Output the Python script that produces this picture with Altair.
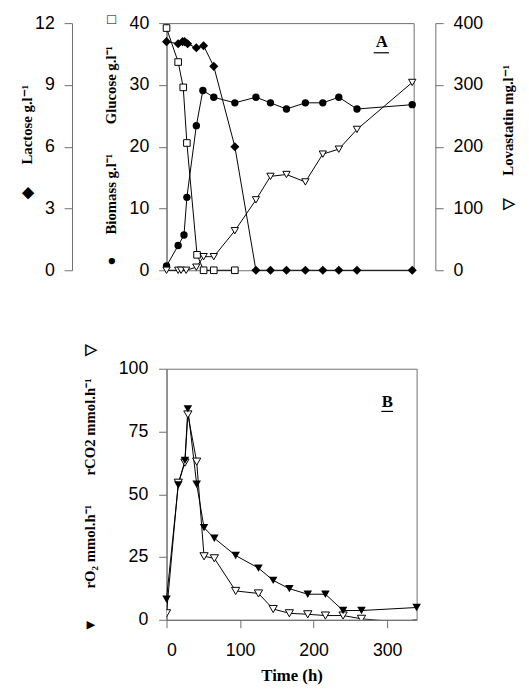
import altair as alt
import pandas as pd

# ---------------- Panel A data ----------------
lac_time = [0, 16, 22, 25, 29, 41, 51, 65, 94, 123, 143, 165, 191, 215, 237, 262, 338]
lactose = [11.1, 11.0, 11.1, 11.1, 11.0, 10.8, 10.9, 9.9, 6.0, 0, 0, 0, 0, 0, 0, 0, 0]

glu_time = [0, 16, 23, 28, 42, 51, 65, 94]
glucose = [39.2, 33.7, 29.6, 20.6, 2.5, 0, 0, 0]

bio_time = [0, 16, 24, 28, 41, 50, 65, 94, 123, 143, 165, 191, 215, 237, 262, 338]
biomass = [0.7, 4.0, 5.7, 11.8, 23.4, 29.1, 28.0, 27.1, 28.0, 27.1, 26.1, 27.1, 27.1, 28.0, 26.1, 26.8]

lov_time = [0, 16, 20, 27, 41, 51, 65, 94, 123, 143, 165, 191, 215, 237, 262, 338]
lovastatin = [0, 0, 0, 0, 5, 22, 22, 64, 114, 152, 155, 143, 188, 196, 228, 304]

# ---------------- Panel B data ----------------
b_time = [0, 16, 25, 29, 41, 51, 65, 94, 125, 145, 167, 192, 216, 240, 265, 340]
rO2 = [8.2, 53.7, 63.5, 84, 54, 36.7, 32.5, 25.6, 20.6, 15.7, 12.4, 10.2, 10.2, 3.7, 3.7, 4.9]
rCO2 = [2.6, 54.6, 62.6, 81.8, 63, 25.3, 24.5, 11.5, 10.5, 4.3, 2.6, 2.2, 1.7, 1.7, 0.4, -1.5]

# panel letters (data coordinates)
label_A = {"text": ["A"], "t": [296], "v": [36.2], "t1": [285], "t2": [306], "u": [35.2]}
label_B = {"text": ["B"], "t": [300], "v": [84.6], "t1": [292], "t2": [308], "u": [83.0]}


def df(t, v):
    return pd.DataFrame({"t": t, "v": v})


SANS = "Liberation Sans"
SERIF = "Liberation Serif"
GREY = "#6e6e6e"
EM = "\u2003"
EN = "\u2002"

# ---------------- Panel A ----------------
xA = alt.X("t:Q", scale=alt.Scale(domain=[0, 340], nice=False, zero=False),
           axis=alt.Axis(values=[0, 100, 200, 300], title=None, labelPadding=9))

gb_title = "\u25CF" + EM + EN + "Biomass g.l\u207B\u00B9" + EM + EM + "Glucose g.l\u207B\u00B9" + EM + EN + "\u25A1"
yGB = alt.Y("v:Q", scale=alt.Scale(domain=[0, 40], nice=False),
            axis=alt.Axis(orient="left", values=[0, 10, 20, 30, 40], title=gb_title,
                          titleAngle=270, titleX=-57, titleY=118.5, titleAlign="center",
                          titleBaseline="middle", labelPadding=10))

lac_title = "\u25C6" + EM + EN + "Lactose g.l\u207B\u00B9"
yLac = alt.Y("v:Q", scale=alt.Scale(domain=[0, 12], nice=False),
             axis=alt.Axis(orient="left", offset=96, values=[0, 3, 6, 9, 12], title=lac_title,
                           titleAngle=270, titleX=-46, titleY=120, titleAlign="center",
                           titleBaseline="middle", labelPadding=10))

lov_title = "\u25BD" + EM + EN + "Lovastatin mg.l\u207B\u00B9"
yLov = alt.Y("v:Q", scale=alt.Scale(domain=[0, 400], nice=False),
             axis=alt.Axis(orient="right", offset=22, values=[0, 100, 200, 300, 400], title=lov_title,
                           titleAngle=270, titleX=73, titleY=115.5, titleAlign="center",
                           titleBaseline="middle", labelPadding=10))

line_kw = dict(color="black", strokeWidth=1)

glu = df(glu_time, glucose)
bio = df(bio_time, biomass)
lac = df(lac_time, lactose)
lov = df(lov_time, lovastatin)

gb_layer = alt.layer(
    alt.Chart(glu).mark_line(**line_kw).encode(x=xA, y=yGB),
    alt.Chart(bio).mark_line(**line_kw).encode(x=xA, y=yGB),
    alt.Chart(glu).mark_point(shape="square", size=45, filled=True, fill="white",
                              stroke="black", strokeWidth=1, opacity=1).encode(x=xA, y=yGB),
    alt.Chart(bio).mark_point(shape="circle", size=56, filled=True, color="black",
                              opacity=1).encode(x=xA, y=yGB),
)

lac_layer = alt.layer(
    alt.Chart(lac).mark_line(**line_kw).encode(x=xA, y=yLac),
    alt.Chart(lac).mark_point(shape="diamond", size=85, filled=True, color="black",
                              opacity=1).encode(x=xA, y=yLac),
)

lov_layer = alt.layer(
    alt.Chart(lov).mark_line(**line_kw).encode(x=xA, y=yLov),
    alt.Chart(lov).mark_point(shape="triangle-down", size=55, filled=True, fill="white",
                              stroke="black", strokeWidth=1, opacity=1).encode(x=xA, y=yLov),
)

labA = pd.DataFrame(label_A)
yLabA = alt.Y("v:Q", scale=alt.Scale(domain=[0, 40], nice=False), axis=None)
labA_layer = alt.layer(
    alt.Chart(labA).mark_text(font=SERIF, fontWeight="bold", fontSize=17, baseline="alphabetic",
                              align="center", color="black").encode(x=xA, y=yLabA, text="text:N"),
    alt.Chart(labA).mark_rule(color="black", strokeWidth=1.2).encode(
        x=alt.X("t1:Q", scale=alt.Scale(domain=[0, 340], nice=False, zero=False), axis=None),
        x2="t2:Q",
        y=alt.Y("u:Q", scale=alt.Scale(domain=[0, 40], nice=False), axis=None)),
)

panelA = alt.layer(gb_layer, lac_layer, lov_layer, labA_layer).resolve_scale(
    y="independent").properties(width=251, height=251)

# ---------------- Panel B ----------------
xB_axis = alt.Axis(values=[0, 100, 200, 300], title="Time (h)", labelPadding=14,
                   titleFontSize=17, titlePadding=9)
xB = alt.X("t:Q", scale=alt.Scale(domain=[0, 340], nice=False, zero=False), axis=xB_axis)

b_title = ("\u25BC" + EM + EM + "rO\u2082 mmol.h\u207B\u00B9" + EM + EM + "rCO2 mmol.h\u207B\u00B9"
           + EM + EN + "\u25BD")
yB_axis = alt.Axis(orient="left", values=[0, 25, 50, 75, 100], title=b_title,
                   titleAngle=270, titleX=-78, titleY=121, titleAlign="center",
                   titleBaseline="middle", labelPadding=11)
yB = alt.Y("v:Q", scale=alt.Scale(domain=[0, 100], nice=False), axis=yB_axis)

o2 = df(b_time, rO2)
co2 = df(b_time, rCO2)
labB = pd.DataFrame(label_B)

panelB = alt.layer(
    alt.Chart(co2).mark_line(clip=True, **line_kw).encode(x=xB, y=yB),
    alt.Chart(o2).mark_line(**line_kw).encode(x=xB, y=yB),
    alt.Chart(co2).mark_point(shape="triangle-down", size=70, filled=True, fill="white",
                              stroke="black", strokeWidth=1, opacity=1, clip=True).encode(x=xB, y=yB),
    alt.Chart(o2).mark_point(shape="triangle-down", size=75, filled=True, color="black",
                             opacity=1).encode(x=xB, y=yB),
    alt.Chart(labB).mark_text(font=SERIF, fontWeight="bold", fontSize=17, baseline="alphabetic",
                              align="center", color="black").encode(x=xB, y=yB, text="text:N"),
    alt.Chart(labB).mark_rule(color="black", strokeWidth=1.2).encode(
        x=alt.X("t1:Q", scale=alt.Scale(domain=[0, 340], nice=False, zero=False), axis=xB_axis),
        x2="t2:Q",
        y=alt.Y("u:Q", scale=alt.Scale(domain=[0, 100], nice=False), axis=yB_axis)),
).properties(width=254, height=255)

chart = alt.vconcat(panelA, panelB, spacing=100, bounds="flush").properties(
    padding={"left": 11, "top": 0, "right": 5, "bottom": 5}
).configure_view(
    stroke=GREY, strokeWidth=1
).configure_axis(
    domainColor=GREY, tickColor=GREY, tickSize=8, grid=False,
    labelFont=SANS, labelFontSize=18, labelColor="black",
    titleFont=SERIF, titleFontSize=15, titleFontWeight="bold", titleColor="black",
)

chart.save("out.html", embed_options={"renderer": "svg", "actions": False})
